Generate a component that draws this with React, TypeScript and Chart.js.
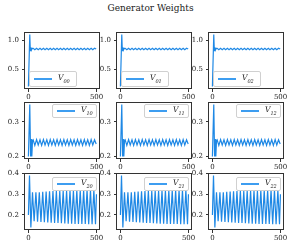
import React, { useEffect, useRef } from "react";
import { Chart, registerables } from "chart.js";
Chart.register(...registerables);

const TITLE = "Generator Weights";
const X_TICKS = [0, 500];
const X_MIN = -25;
const X_MAX = 525;

const ROW0_X = [0, 10, 14, 18, 22, 28, 35, 47, 60, 72, 85, 97, 110, 122, 135, 147, 160, 172, 185, 197, 210, 222, 235, 247, 260, 272, 285, 297, 310, 322, 335, 347, 360, 372, 385, 397, 410, 422, 435, 447, 460, 472, 485, 497];
const ROW0_Y = [0.2, 1.1, 0.82, 0.88, 0.83, 0.86,
  0.862, 0.838, 0.863, 0.839, 0.862, 0.838, 0.864, 0.839, 0.863, 0.838,
  0.864, 0.839, 0.863, 0.838, 0.864, 0.839, 0.863, 0.838, 0.864, 0.839,
  0.863, 0.838, 0.864, 0.839, 0.863, 0.838, 0.864, 0.839, 0.863, 0.838,
  0.864, 0.839, 0.863, 0.838, 0.864, 0.839, 0.863, 0.85];

const ROW1_X = [0, 10, 16, 21, 25, 30, 35, 47, 60, 72, 85, 97, 110, 122, 135, 147, 160, 172, 185, 197, 210, 222, 235, 247, 260, 272, 285, 297, 310, 322, 335, 347, 360, 372, 385, 397, 410, 422, 435, 447, 460, 472, 485, 497];
const ROW1_Y = [0.2, 0.35, 0.2, 0.25, 0.2, 0.245,
  0.248, 0.232, 0.249, 0.233, 0.248, 0.232, 0.249, 0.233, 0.248, 0.232,
  0.249, 0.233, 0.248, 0.232, 0.249, 0.233, 0.248, 0.232, 0.249, 0.233,
  0.248, 0.232, 0.249, 0.233, 0.248, 0.232, 0.249, 0.233, 0.248, 0.232,
  0.249, 0.233, 0.248, 0.232, 0.249, 0.233, 0.248, 0.236];

const ROW2_X = [0, 8, 18, 30, 42, 55, 67, 80, 92, 105, 117, 130, 142, 155, 167, 180, 192, 205, 217, 230, 242, 255, 267, 280, 292, 305, 317, 330, 342, 355, 367, 380, 392, 405, 417, 430, 442, 455, 467, 480, 492, 499];
const ROW2_Y = [0.2, 0.39, 0.14, 0.31, 0.17, 0.31, 0.168, 0.31, 0.166, 0.312,
  0.165, 0.313, 0.164, 0.314, 0.163, 0.315, 0.162, 0.316, 0.161, 0.316,
  0.16, 0.317, 0.159, 0.317, 0.158, 0.318, 0.158, 0.318, 0.157, 0.319,
  0.157, 0.319, 0.156, 0.32, 0.156, 0.32, 0.155, 0.32, 0.155, 0.32, 0.155, 0.3];

const ROW_X = [ROW0_X, ROW1_X, ROW2_X];
const ROW_Y = [ROW0_Y, ROW1_Y, ROW2_Y];
const Y_TICKS = [[0.5, 1.0], [0.2, 0.3], [0.2, 0.3, 0.4]];
const Y_TICK_LABELS = [["0.5", "1.0"], ["0.2", "0.3"], ["0.2", "0.3", "0.4"]];
const Y_MIN = [0.155, 0.1925, 0.1275];
const Y_MAX = [1.145, 0.3575, 0.4025];
const LEGEND_SUBS = [["00", "01", "02"], ["10", "11", "12"], ["20", "21", "22"]];

const COL_L = [25, 117, 209];
const ROW_T = [32, 102, 173];
const PW = 75;
const PH = 57;
const YAX_W = 25;
const XAX_H = 14;
const PAD_T = 5;
const PAD_R = 12;
const LINE = "#1e88e5";
const LEGEND_LINE = "#3d9df0";
const AXC = "#333333";
const FONT = "DejaVu Serif";

const framePlugin = {
  id: "frame",
  afterDatasetsDraw(chart: any) {
    const { ctx, chartArea } = chart;
    ctx.save();
    ctx.strokeStyle = AXC;
    ctx.lineWidth = 1;
    ctx.strokeRect(Math.round(chartArea.left) - 0.5, Math.round(chartArea.top) + 0.5,
      Math.round(chartArea.right - chartArea.left), Math.round(chartArea.bottom - chartArea.top) - 1);
    ctx.restore();
  },
};

function Panel({ r, c }: { r: number; c: number }) {
  const ref = useRef<HTMLCanvasElement>(null);
  const cw = YAX_W + PW + PAD_R;
  const ch = PAD_T + PH + XAX_H;
  useEffect(() => {
    const xs = ROW_X[r];
    const ys = ROW_Y[r];
    const chart = new Chart(ref.current!, {
      type: "line",
      data: {
        datasets: [{
          label: "V" + LEGEND_SUBS[r][c],
          data: xs.map((x, i) => ({ x, y: ys[i] })),
          borderColor: LINE,
          borderWidth: 1.2,
          pointRadius: 0,
          tension: 0,
          fill: false,
        }],
      },
      options: {
        animation: false,
        responsive: false,
        maintainAspectRatio: false,
        layout: { padding: { top: PAD_T, right: PAD_R, left: 0, bottom: 0 } },
        plugins: { legend: { display: false }, tooltip: { enabled: false }, title: { display: false } },
        scales: {
          x: {
            type: "linear",
            min: X_MIN,
            max: X_MAX,
            afterBuildTicks: (s: any) => { s.ticks = X_TICKS.map((v) => ({ value: v })); },
            afterFit: (s: any) => { s.height = XAX_H; s.paddingLeft = 0; s.paddingRight = 0; },
            ticks: { font: { family: FONT, size: 7 }, color: "#222", padding: 1, maxRotation: 0, autoSkip: false,
              callback: (v: any) => String(v) },
            grid: { drawOnChartArea: false, drawTicks: true, tickLength: 3, color: AXC },
            border: { display: false },
          },
          y: {
            type: "linear",
            min: Y_MIN[r],
            max: Y_MAX[r],
            afterBuildTicks: (s: any) => { s.ticks = Y_TICKS[r].map((v) => ({ value: v })); },
            afterFit: (s: any) => { s.width = YAX_W; s.paddingTop = 0; s.paddingBottom = 0; },
            ticks: { font: { family: FONT, size: 7 }, color: "#222", padding: 3, autoSkip: false,
              callback: (v: any) => Y_TICK_LABELS[r][Y_TICKS[r].indexOf(v)] ?? "" },
            grid: { drawOnChartArea: false, drawTicks: true, tickLength: 3, color: AXC },
            border: { display: false },
          },
        },
      },
      plugins: [framePlugin],
    });
    return () => chart.destroy();
  }, [r, c]);
  const L = COL_L[c];
  const T = ROW_T[r];
  const legendStyle: React.CSSProperties = {
    position: "absolute",
    border: "1px solid #d0d0d0",
    borderRadius: 2,
    background: "rgba(255,255,255,0.85)",
    width: 45,
    height: 14,
    display: "flex",
    alignItems: "center",
    boxSizing: "border-box",
    fontFamily: FONT,
    fontSize: 7.5,
    color: "#222",
  };
  if (r === 0) {
    legendStyle.left = L + 4;
    legendStyle.top = T + PH - 2 - 16;
    legendStyle.height = 16;
    legendStyle.width = 48;
  } else {
    legendStyle.left = L + PW - 3 - 45;
    legendStyle.top = T + (r === 1 ? 2 : 4);
  }
  return (
    <>
      <canvas ref={ref} width={cw} height={ch}
        style={{ position: "absolute", left: L - YAX_W, top: T - PAD_T, width: cw, height: ch }} />
      <div style={legendStyle}>
        <span style={{ display: "inline-block", flex: "none", width: 18, height: 2, background: LEGEND_LINE, marginLeft: 4, marginRight: 6 }} />
        <span style={{ fontStyle: "italic", whiteSpace: "nowrap", lineHeight: "10px" }}>
          V<sub style={{ fontSize: 5, fontStyle: "italic" }}>{LEGEND_SUBS[r][c]}</sub>
        </span>
      </div>
    </>
  );
}

export default function App() {
  const cells = [];
  for (let r = 0; r < 3; r++) for (let c = 0; c < 3; c++) cells.push(<Panel key={`${r}-${c}`} r={r} c={c} />);
  return (
    <div style={{ position: "fixed", left: 0, top: 0, width: 295, height: 249, background: "#fff", overflow: "hidden" }}>
      <div style={{ position: "absolute", left: 3, top: 3, width: 295, textAlign: "center", fontFamily: FONT, fontSize: 9, color: "#222" }}>
        {TITLE}
      </div>
      {cells}
    </div>
  );
}
